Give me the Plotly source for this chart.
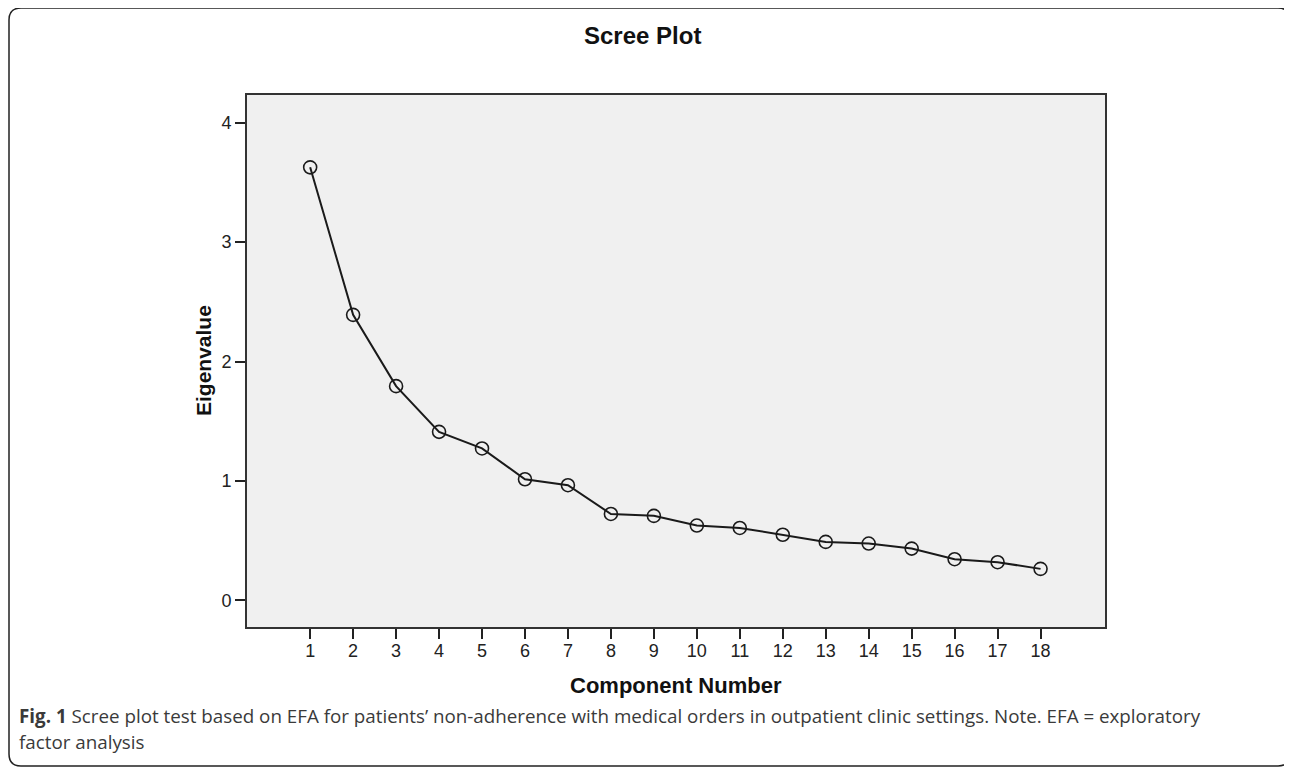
import plotly.graph_objects as go

components = list(range(1, 19))
eigenvalues = [3.627, 2.391, 1.794, 1.411, 1.272, 1.014, 0.964, 0.723, 0.707,
               0.626, 0.606, 0.549, 0.489, 0.475, 0.433, 0.344, 0.319, 0.263]
y_ticks = [0, 1, 2, 3, 4]

OFF = 8  # default page body margin
W, H = 1292 - OFF, 770 - OFF
# plot area in reference pixel coordinates
PL, PR, PT, PB = 247, 1105, 95, 627
L, T = PL - OFF, PT - OFF
R, B = W - (PR - OFF), H - (PB - OFF)
PW, PH = PR - PL, PB - PT


def px(x):
    return (x - PL) / PW


def py(y):
    return (PB - y) / PH


fig = go.Figure()
fig.add_trace(go.Scatter(
    x=components, y=eigenvalues, mode="lines+markers",
    line=dict(color="#1a1a1a", width=2),
    marker=dict(symbol="circle-open", size=13, color="#1a1a1a",
                line=dict(width=1.6, color="#1a1a1a")),
    showlegend=False, hoverinfo="x+y",
))

axis_font = dict(family="Liberation Sans, Arial, sans-serif", size=18, color="#222")
fig.update_xaxes(range=[-0.47, 19.5], tickmode="array", tickvals=components,
                 ticks="outside", ticklen=10, tickwidth=2, tickcolor="#222",
                 ticklabelstandoff=-4,
                 showline=True, linecolor="#333", linewidth=2, mirror=True,
                 showgrid=False, zeroline=False, tickfont=axis_font)
fig.update_yaxes(range=[-0.224, 4.233], tickmode="array", tickvals=y_ticks,
                 ticks="outside", ticklen=10, tickwidth=2, tickcolor="#222",
                 showline=True, linecolor="#333", linewidth=2, mirror=True,
                 showgrid=False, zeroline=False, tickfont=axis_font)

bold = "Liberation Sans, Arial, sans-serif"
cap_font = dict(family="Open Sans, sans-serif", size=18.8, color="#3a3a3a")
ann = [
    dict(text="<b>Scree Plot</b>", x=px(642), y=py(35), font=dict(family=bold, size=24, color="#111"),
         xanchor="center", yanchor="middle"),
    dict(text="<b>Component Number</b>", x=px(676), y=py(685), font=dict(family=bold, size=22, color="#111"),
         xanchor="center", yanchor="middle"),
    dict(text="<b>Eigenvalue</b>", x=px(203), y=py(361), textangle=-90,
         font=dict(family=bold, size=21, color="#111"), xanchor="center", yanchor="middle"),
    dict(text="<b>Fig. 1</b> Scree plot test based on EFA for patients\u2019 non-adherence with medical orders in outpatient clinic settings. Note. EFA = exploratory",
         x=px(17), y=py(716), font=cap_font, xanchor="left", yanchor="middle"),
    dict(text="factor analysis", x=px(17), y=py(742), font=cap_font,
         xanchor="left", yanchor="middle"),
]
for a in ann:
    a.update(xref="paper", yref="paper", showarrow=False)

# rounded frame (reference pixel coordinates)
x0, x1, y0, y1, r = 9, 1290, 8, 766, 12
path = (f"M {px(x0 + r)},{py(y0)} L {px(x1 - r)},{py(y0)} "
        f"Q {px(x1)},{py(y0)} {px(x1)},{py(y0 + r)} "
        f"L {px(x1)},{py(y1 - r)} Q {px(x1)},{py(y1)} {px(x1 - r)},{py(y1)} "
        f"L {px(x0 + r)},{py(y1)} Q {px(x0)},{py(y1)} {px(x0)},{py(y1 - r)} "
        f"L {px(x0)},{py(y0 + r)} Q {px(x0)},{py(y0)} {px(x0 + r)},{py(y0)} Z")

fig.update_layout(
    width=W, height=H,
    margin=dict(l=L, r=R, t=T, b=B, autoexpand=False),
    paper_bgcolor="white", plot_bgcolor="#f0f0f0",
    annotations=ann,
    shapes=[dict(type="path", path=path, xref="paper", yref="paper",
                 line=dict(color="#222", width=1.5), layer="below")],
)

fig.write_html("out.html")
